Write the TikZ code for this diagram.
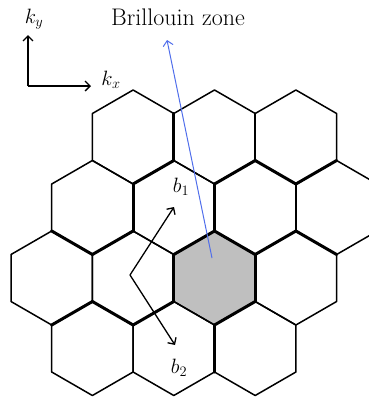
\documentclass[tikz,border=0pt]{standalone}
\usetikzlibrary{arrows.meta,calc}
\definecolor{zoneblue}{RGB}{80,110,235}
\begin{document}
\begin{tikzpicture}[x=1pt, y=-1pt, >={Straight Barb[length=5pt,width=10pt]},
    hexline/.style={line width=1.5pt, line join=round},
    midedge/.style={line width=2.1pt, line cap=round},
    thickedge/.style={line width=3pt, line cap=round},
    vec/.style={->, line width=1.3pt},
    lbl/.style={font=\fontsize{22}{26}\selectfont}]
        % --- SETTINGS ---
        \def\R{47}      % Hexagon circumradius
        \def\A{40.7}    % Hexagon apothem
        \def\H{23.5}    % Half of the side

        \useasboundingbox (0,0) rectangle (369,402);
        \clip (0,0) rectangle (369,402);

        % --- HEXAGON CORNERS ---
        \foreach \n/\cx/\cy in {A1/133.1/137, A2/214.5/137, A3/295.9/137,
                                B1/92.4/207.5, B2/173.8/207.5, B3/255.2/207.5, B4/336.6/207.5,
                                C1/51.7/278, C2/133.1/278, C3/214.5/278, C4/295.9/278,
                                D1/92.4/348.5, D2/173.8/348.5, D3/255.2/348.5} {
            \coordinate (\n) at (\cx,\cy);
            \coordinate (\n-t)  at ($(\n)+(0,-\R)$);
            \coordinate (\n-ur) at ($(\n)+(\A,-\H)$);
            \coordinate (\n-lr) at ($(\n)+(\A,\H)$);
            \coordinate (\n-b)  at ($(\n)+(0,\R)$);
            \coordinate (\n-ll) at ($(\n)+(-\A,\H)$);
            \coordinate (\n-ul) at ($(\n)+(-\A,-\H)$);
        }

        % Shaded zone
        \fill[gray!50] (C3-t) -- (C3-ur) -- (C3-lr) -- (C3-b) -- (C3-ll) -- (C3-ul) -- cycle;

        % --- LATTICE ---
        \foreach \n in {A1, A2, A3, B1, B2, B3, B4, C1, C2, C3, C4, D1, D2, D3} {
            \draw[hexline] (\n-t) -- (\n-ur) -- (\n-lr) -- (\n-b) -- (\n-ll) -- (\n-ul) -- cycle;
        }

        % Heavier edges
        \foreach \p/\q in {A2-ur/A2-lr, B3-ur/B3-lr} {
            \draw[midedge] (\p) -- (\q);
        }
        \foreach \p/\q in {A1-ur/A1-lr, A1-lr/A1-b, B2-ul/B2-ll, B1-ll/B1-b, B1-b/B1-lr,
                           B2-b/B2-lr, C3-ul/C3-ll, C3-t/C3-ur, C3-ur/C3-lr, C3-lr/C3-b,
                           D2-ur/D2-lr, C2-lr/C2-b, C2-b/C2-ll, C1-lr/C1-b, B3-ul/B3-t,
                           B3-t/B3-ur, B4-ul/B4-t, B3-ul/B3-ll, B3-lr/B3-b, B4-ll/B4-b} {
            \draw[thickedge] (\p) -- (\q);
        }

        % --- AXES ---
        \coordinate (origin) at (28,86);
        \coordinate (kyend) at (28,35);
        \coordinate (kxend) at (91,86);
        \draw[vec] (origin) -- (kyend);
        \draw[vec] (origin) -- (kxend);
        \node[lbl] (ky) at (34,19) {$k_y$};
        \node[lbl] (kx) at (111,80) {$k_x$};

        % --- BRILLOUIN ZONE POINTER ---
        \node[font=\fontsize{24}{28}\selectfont] (zone) at (178,17) {Brillouin zone};
        \coordinate (zonept) at (212,258);
        \coordinate (zonetip) at (167,40);
        \draw[->, zoneblue, line width=1pt] (zonept) -- (zonetip);

        % --- RECIPROCAL VECTORS ---
        \coordinate (o) at (130,275);
        \coordinate (b1tip) at (174,207);
        \coordinate (b2tip) at (175,345);
        \draw[vec] (o) -- (b1tip);
        \draw[vec] (o) -- (b2tip);
        \node[lbl] (b1) at (181,187) {$b_1$};
        \node[lbl] (b2) at (179,368) {$b_2$};

    \end{tikzpicture}
\end{document}
